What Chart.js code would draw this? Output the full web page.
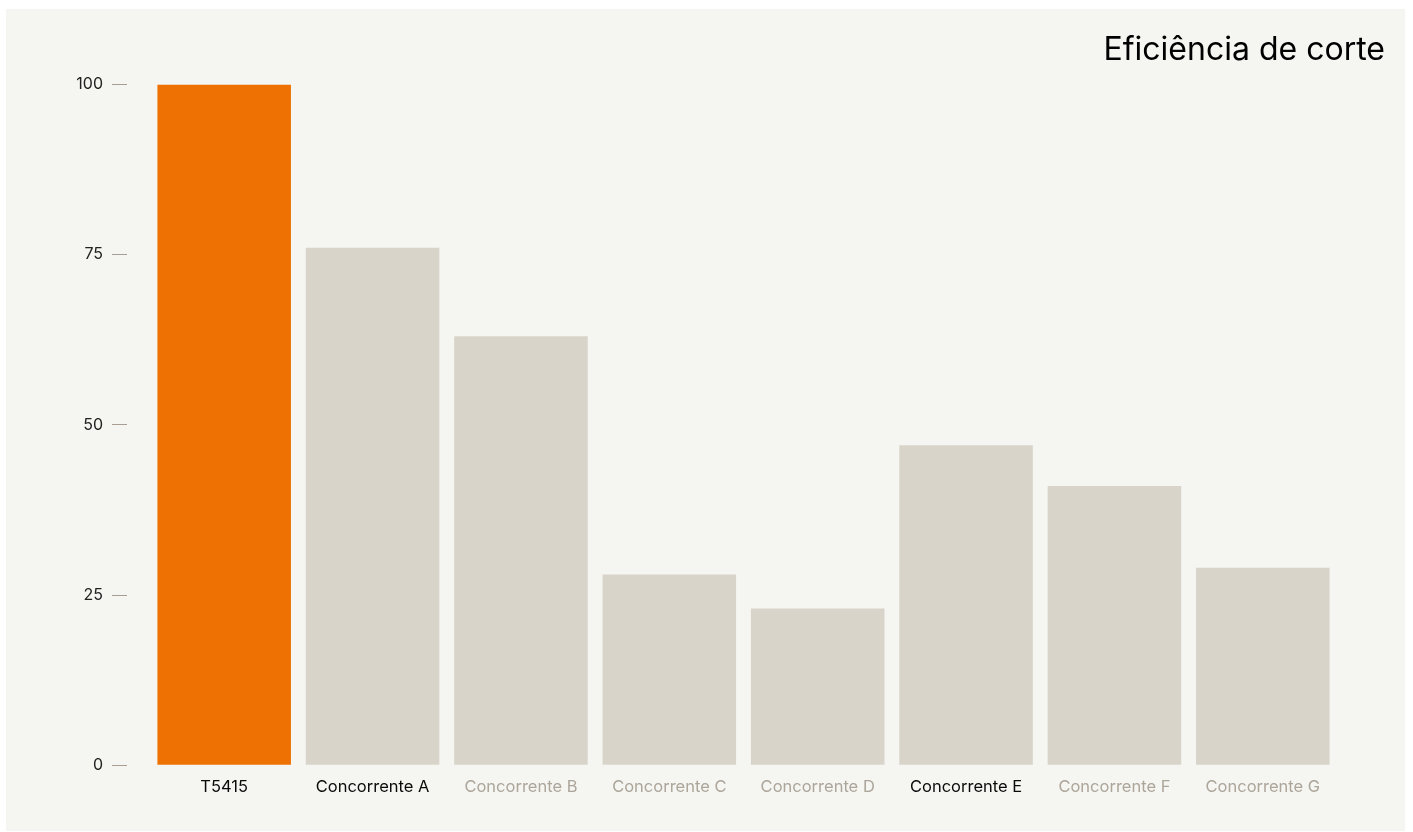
<!DOCTYPE html>
<html>
<head>
<meta charset="utf-8">
<script src="https://cdn.jsdelivr.net/npm/chart.js@4"></script>
<style>
    body { margin: 0; background: #ffffff; }
    .panel {
        position: absolute;
        left: 6px;
        top: 9px;
        width: 1399px;
        height: 822px;
        background: #f5f5f1;
    }
    canvas { display: block; }
</style>
</head>
<body>
<div class="panel"><canvas id="chart" width="1399" height="822"></canvas></div>
<script>
const categories = ['T5415', 'Concorrente A', 'Concorrente B', 'Concorrente C', 'Concorrente D', 'Concorrente E', 'Concorrente F', 'Concorrente G'];
const efficiency = [100, 76, 63, 28, 23, 47, 41, 29];
const yTicks = [0, 25, 50, 75, 100];

const orange = '#ee7203';
const sand = '#d8d4ca';
const darkText = '#0a0a0a';
const mutedText = '#aca59a';
const darkLabels = ['T5415', 'Concorrente A', 'Concorrente E'];

new Chart(document.getElementById('chart'), {
    type: 'bar',
    data: {
        labels: categories,
        datasets: [{
            data: efficiency,
            backgroundColor: ctx => ctx.dataIndex === 0 ? orange : sand,
            barPercentage: 0.9,
            categoryPercentage: 1.0,
            borderWidth: 0,
        }]
    },
    options: {
        responsive: false,
        animation: false,
        layout: {
            padding: { left: 0, right: 20, top: 18, bottom: 22 }
        },
        plugins: {
            legend: { display: false },
            tooltip: { enabled: false },
            title: {
                display: true,
                text: 'Eficiência de corte',
                align: 'end',
                color: '#000000',
                font: { family: 'Inter', size: 32, weight: 'normal' },
                padding: { top: 4, bottom: 15 }
            }
        },
        scales: {
            x: {
                grid: { display: false, drawTicks: false },
                border: { display: false },
                ticks: {
                    padding: 12,
                    font: { family: 'Inter', size: 16.5 },
                    color: ctx => darkLabels.includes(categories[ctx.index]) ? darkText : mutedText
                }
            },
            y: {
                min: 0,
                max: 100,
                afterBuildTicks: scale => {
                    scale.ticks = yTicks.map(v => ({ value: v }));
                },
                afterFit: scale => {
                    scale.width = 144;
                },
                grid: {
                    drawOnChartArea: false,
                    tickLength: 38,
                    tickColor: '#a89f92',
                    tickWidth: 1,
                    tickBorderDash: [15, 100]
                },
                border: { display: false },
                ticks: {
                    padding: 9,
                    font: { family: 'Inter', size: 16 },
                    color: '#222222'
                }
            },
            yRight: {
                position: 'right',
                min: 0,
                max: 100,
                afterFit: scale => {
                    scale.width = 48;
                },
                grid: { display: false },
                border: { display: false },
                ticks: { display: false }
            }
        }
    }
});
</script>
</body>
</html>
